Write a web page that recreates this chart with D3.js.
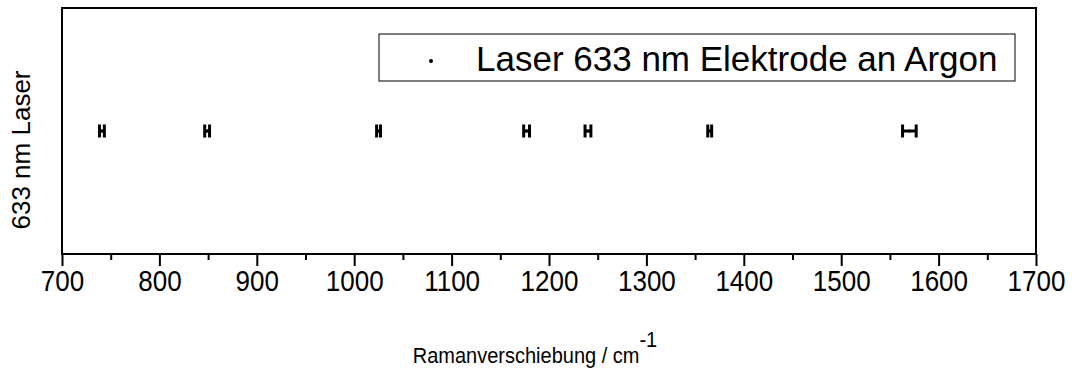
<!DOCTYPE html>
<html>
<head>
<meta charset="utf-8">
<script src="https://cdn.jsdelivr.net/npm/d3@7"></script>
<style>
  html, body { margin: 0; padding: 0; background: #fff; }
  svg { display: block; font-family: "Liberation Sans", Arial, sans-serif; }
</style>
</head>
<body>
<svg id="chart" width="1073" height="378"></svg>
<script>
// Raman band positions (cm^-1) measured with the 633 nm laser, electrode under argon
const peakPositions = [741, 849, 1025, 1177, 1240, 1365, 1570];
// half-width of the horizontal error bar for each band (cm^-1)
const peakErrors = [2.5, 2.5, 2, 3, 3, 2, 7];
// all bands sit on a single row
const rowLevel = [1, 1, 1, 1, 1, 1, 1];

const xTicks = [700, 800, 900, 1000, 1100, 1200, 1300, 1400, 1500, 1600, 1700];
const xMinorTicks = [750, 850, 950, 1050, 1150, 1250, 1350, 1450, 1550, 1650];
const legendLabel = "Laser 633 nm Elektrode an Argon";
const xTitle = "Ramanverschiebung / cm";
const xTitleSup = "-1";
const yTitle = "633 nm Laser";

const W = 1073, H = 378;
const margin = { left: 62, right: 37, top: 8, bottom: 124 };
const iw = W - margin.left - margin.right;
const ih = H - margin.top - margin.bottom;
const textStretch = 1.1; // glyphs are drawn slightly taller than wide

const svg = d3.select("#chart");
const g = svg.append("g").attr("transform", `translate(${margin.left},${margin.top})`);

const x = d3.scaleLinear().domain([700, 1700]).range([0, iw]);
const y = d3.scaleLinear().domain([0, 2]).range([ih, 0]);

// plot frame
g.append("rect")
  .attr("x", 0).attr("y", 0).attr("width", iw).attr("height", ih)
  .attr("fill", "none").attr("stroke", "#000").attr("stroke-width", 2);

// bottom axis: major ticks with labels
const xAxis = d3.axisBottom(x).tickValues(xTicks).tickSize(12).tickPadding(3).tickFormat(d3.format("d"));
const ax = g.append("g").attr("transform", `translate(0,${ih})`).call(xAxis);
ax.select(".domain").remove();
ax.selectAll(".tick line").attr("stroke", "#000").attr("stroke-width", 2);
ax.selectAll(".tick text")
  .attr("fill", "#000")
  .attr("transform", `scale(1,${textStretch})`)
  .style("font-family", '"Liberation Sans", Arial, sans-serif')
  .style("font-size", "26px");

// bottom axis: minor ticks
const axMinor = d3.axisBottom(x).tickValues(xMinorTicks).tickSize(6).tickFormat("");
const am = g.append("g").attr("transform", `translate(0,${ih})`).call(axMinor);
am.select(".domain").remove();
am.selectAll(".tick line").attr("stroke", "#000").attr("stroke-width", 2);

// horizontal error bars with caps
const capH = 13;
const bars = g.append("g").selectAll("g.peak")
  .data(peakPositions.map((p, i) => ({ p, e: peakErrors[i], r: rowLevel[i] })))
  .join("g").attr("class", "peak");

bars.append("line")
  .attr("x1", d => x(d.p - d.e)).attr("x2", d => x(d.p + d.e))
  .attr("y1", d => y(d.r)).attr("y2", d => y(d.r))
  .attr("stroke", "#000").attr("stroke-width", 3);
bars.append("line")
  .attr("x1", d => x(d.p - d.e)).attr("x2", d => x(d.p - d.e))
  .attr("y1", d => y(d.r) - capH / 2).attr("y2", d => y(d.r) + capH / 2)
  .attr("stroke", "#000").attr("stroke-width", 3);
bars.append("line")
  .attr("x1", d => x(d.p + d.e)).attr("x2", d => x(d.p + d.e))
  .attr("y1", d => y(d.r) - capH / 2).attr("y2", d => y(d.r) + capH / 2)
  .attr("stroke", "#000").attr("stroke-width", 3);
bars.append("circle")
  .attr("cx", d => x(d.p)).attr("cy", d => y(d.r)).attr("r", 1.5).attr("fill", "#000");

// legend
const lg = svg.append("g").attr("transform", "translate(379,34)");
lg.append("rect").attr("width", 636).attr("height", 47)
  .attr("fill", "#fff").attr("stroke", "#000").attr("stroke-width", 1);
lg.append("circle").attr("cx", 52).attr("cy", 27).attr("r", 2).attr("fill", "#000");
lg.append("text").attr("x", 97).attr("y", 37)
  .style("font-size", "35px").attr("fill", "#000").text(legendLabel);

// x axis title with superscript
const xt = svg.append("text")
  .attr("transform", `translate(${margin.left + iw / 2 - 14},363) scale(1,${textStretch})`)
  .attr("text-anchor", "middle").style("font-size", "20px").attr("fill", "#000");
xt.append("tspan").text(xTitle);
xt.append("tspan").attr("dy", -15).style("font-size", "20px").text(xTitleSup);

// y axis title
svg.append("text")
  .attr("transform", `translate(30,150) rotate(-90)`)
  .attr("text-anchor", "middle").style("font-size", "26px").attr("fill", "#000")
  .text(yTitle);
</script>
</body>
</html>
